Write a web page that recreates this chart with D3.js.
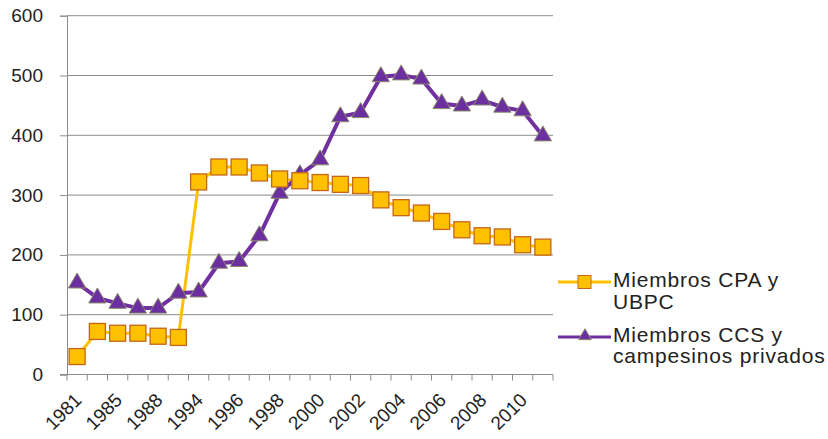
<!DOCTYPE html>
<html>
<head>
<meta charset="utf-8">
<script src="https://cdn.jsdelivr.net/npm/d3@7"></script>
<style>
  body { margin: 0; background: #fff; }
  text { font-family: Arial, "Liberation Sans", sans-serif; fill: #222; }
</style>
</head>
<body>
<svg id="chart" width="828" height="439"></svg>
<script>
// Categories (only every other one is labelled on the axis)
const years = ["1981", "1983", "1985", "1987", "1988", "1990", "1994", "1995",
               "1996", "1997", "1998", "1999", "2000", "2001", "2002", "2003",
               "2004", "2005", "2006", "2007", "2008", "2009", "2010", "2011"];

// Miembros CPA y UBPC
const cpaUbpc = [30, 72, 69, 69, 64, 62, 322, 347, 347, 337, 327, 324,
                 321, 318, 316, 292, 279, 270, 256, 242, 232, 230, 217, 213];

// Miembros CCS y campesinos privados
const ccsPrivados = [153, 128, 119, 111, 111, 136, 138, 186, 189, 232, 303, 334,
                     359, 431, 438, 498, 501, 494, 453, 449, 459, 447, 441, 399];

const yTicks = [0, 100, 200, 300, 400, 500, 600];

const svg = d3.select('#chart');

// Plot area
const plotLeft = 67, plotRight = 553, plotTop = 15.7, plotBottom = 374.5;

const x = d3.scaleBand()
    .domain(years)
    .range([plotLeft, plotRight]);
const cx = d => x(d) + x.bandwidth() / 2;

const y = d3.scaleLinear()
    .domain([0, 600])
    .range([plotBottom, plotTop]);

// Gridlines
svg.append('g')
    .selectAll('line')
    .data(yTicks.slice(1))
    .join('line')
    .attr('x1', plotLeft)
    .attr('x2', plotRight)
    .attr('y1', d => y(d))
    .attr('y2', d => y(d))
    .attr('stroke', '#8c8c8c')
    .attr('stroke-width', 1);

// Y axis
const yAxis = svg.append('g')
    .attr('transform', `translate(${plotLeft},0)`)
    .call(d3.axisLeft(y).tickValues(yTicks).tickSize(7).tickPadding(17));
yAxis.select('.domain').attr('stroke', '#8c8c8c');
yAxis.selectAll('.tick line').attr('stroke', '#8c8c8c');
yAxis.selectAll('text')
    .style('font-size', '19px')
    .attr('fill', '#222');

// X axis line and boundary ticks
svg.append('line')
    .attr('x1', plotLeft - 7)
    .attr('x2', plotRight)
    .attr('y1', plotBottom)
    .attr('y2', plotBottom)
    .attr('stroke', '#8c8c8c');
svg.append('g')
    .selectAll('line')
    .data(years.concat(['end']))
    .join('line')
    .attr('x1', d => d === 'end' ? plotRight : x(d))
    .attr('x2', d => d === 'end' ? plotRight : x(d))
    .attr('y1', plotBottom)
    .attr('y2', plotBottom + 6)
    .attr('stroke', '#8c8c8c');

// X labels, rotated
svg.append('g')
    .selectAll('text')
    .data(years.filter((d, i) => i % 2 === 0))
    .join('text')
    .attr('transform', d => `translate(${cx(d) + 1},${plotBottom + 22}) rotate(-45)`)
    .attr('text-anchor', 'end')
    .attr('dy', '0.35em')
    .style('font-size', '19px')
    .text(d => d);

// Lines
const line = d3.line()
    .x((d, i) => cx(years[i]))
    .y(d => y(d));

svg.append('path')
    .datum(cpaUbpc)
    .attr('d', line)
    .attr('fill', 'none')
    .attr('stroke', '#FFC000')
    .attr('stroke-width', 3);

svg.append('path')
    .datum(ccsPrivados)
    .attr('d', line)
    .attr('fill', 'none')
    .attr('stroke', '#7030A0')
    .attr('stroke-width', 4);

// Triangle markers
const tri = d3.symbol().type(d3.symbolTriangle).size(130);
svg.append('g')
    .selectAll('path')
    .data(ccsPrivados)
    .join('path')
    .attr('d', tri)
    .attr('transform', (d, i) => `translate(${cx(years[i])},${y(d)})`)
    .attr('fill', '#6B2FA0')
    .attr('stroke', '#8a8a6a')
    .attr('stroke-width', 1);

// Square markers
const sq = 16;
svg.append('g')
    .selectAll('rect')
    .data(cpaUbpc)
    .join('rect')
    .attr('x', (d, i) => cx(years[i]) - sq / 2)
    .attr('y', d => y(d) - sq / 2)
    .attr('width', sq)
    .attr('height', sq)
    .attr('fill', '#FFC000')
    .attr('stroke', '#C5661A')
    .attr('stroke-width', 1.3);

// Legend
const legend = svg.append('g');
legend.append('line')
    .attr('x1', 558).attr('x2', 611)
    .attr('y1', 282).attr('y2', 282)
    .attr('stroke', '#FFC000').attr('stroke-width', 3);
legend.append('rect')
    .attr('x', 578).attr('y', 275.5)
    .attr('width', 13).attr('height', 13)
    .attr('fill', '#FFC000').attr('stroke', '#C5661A');
legend.append('text')
    .attr('x', 613).attr('y', 287)
    .style('font-size', '21px')
    .style('letter-spacing', '0.8px')
    .text('Miembros CPA y');
legend.append('text')
    .attr('x', 613).attr('y', 309)
    .style('font-size', '21px')
    .style('letter-spacing', '0.8px')
    .text('UBPC');

legend.append('line')
    .attr('x1', 558).attr('x2', 611)
    .attr('y1', 337).attr('y2', 337)
    .attr('stroke', '#7030A0').attr('stroke-width', 3);
legend.append('path')
    .attr('d', d3.symbol().type(d3.symbolTriangle).size(70))
    .attr('transform', 'translate(585,336)')
    .attr('fill', '#6B2FA0').attr('stroke', '#8a8a6a');
legend.append('text')
    .attr('x', 613).attr('y', 342)
    .style('font-size', '21px')
    .style('letter-spacing', '0.8px')
    .text('Miembros CCS y');
legend.append('text')
    .attr('x', 613).attr('y', 363)
    .style('font-size', '21px')
    .style('letter-spacing', '0.8px')
    .text('campesinos privados');
</script>
</body>
</html>
